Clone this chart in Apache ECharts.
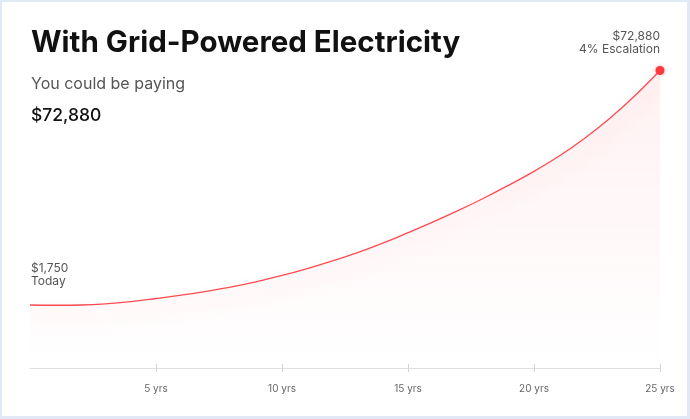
<!DOCTYPE html>
<html>
<head>
<meta charset="utf-8">
<script src="https://cdn.jsdelivr.net/npm/echarts@6/dist/echarts.min.js"></script>
<style>
  html, body { margin: 0; padding: 0; background: #ffffff; }
  #card { position: absolute; left: 0; top: 0; width: 690px; height: 419px; box-sizing: border-box;
          border: 2px solid #e1e9f7; border-right-width: 3px; border-bottom-width: 3px; background: #fff; }
  #chart { position: absolute; left: 0; top: 0; width: 690px; height: 419px; }
</style>
</head>
<body>
<div id="card"></div>
<div id="chart"></div>
<script>
// Years from today (0) to 25
const years = ['0','1','2','3','4','5','6','7','8','9','10','11','12','13','14','15','16','17','18','19','20','21','22','23','24','25'];
// Electricity cost curve (USD)
const costValues = [1750, 1670, 1750, 2110, 2790, 3720, 4720, 5900, 7250, 8850, 10700, 12800, 15130, 17670, 20520, 23680, 26960, 30440, 34140, 38100, 42300, 46950, 52250, 58300, 65200, 72880];
const tickYears = [5, 10, 15, 20, 25];
const titleText = 'With Grid-Powered Electricity';
const subtitleText = 'You could be paying';
const totalText = '$72,880';
const endLabel = ['$72,880', '4% Escalation'];
const startLabel = ['$1,750', 'Today'];

const chart = echarts.init(document.getElementById('chart'), null, { renderer: 'canvas' });
const FONT = 'Inter, "Noto Sans", sans-serif';
const isTick = (i) => tickYears.indexOf(Number(years[i])) >= 0;
const lastIdx = costValues.length - 1;

const seriesData = costValues.map((v, i) => i === lastIdx
  ? { value: v, symbol: 'circle', symbolSize: 9,
      itemStyle: { color: '#ff3a3f', borderWidth: 0, shadowColor: 'rgba(255,60,60,0.35)', shadowBlur: 4 } }
  : v);

chart.setOption({
  backgroundColor: 'transparent',
  animation: false,
  grid: { left: 30, right: 30, top: 70.5, bottom: 51, containLabel: false },
  xAxis: [{
    type: 'category',
    data: years,
    boundaryGap: false,
    axisLine: { show: true, onZero: false, lineStyle: { color: '#dedede', width: 1 } },
    axisTick: { show: true, interval: (i) => isTick(i), length: 4, lineStyle: { color: '#d2d2d2' } },
    axisLabel: { show: true, interval: (i) => isTick(i), formatter: (v) => v + ' yrs',
                 color: '#666', fontSize: 10, fontFamily: FONT, margin: 16 },
    splitLine: { show: false }
  }, {
    type: 'category',
    data: years,
    boundaryGap: false,
    position: 'bottom',
    axisLine: { show: false, onZero: false },
    axisTick: { show: true, inside: true, interval: (i) => isTick(i), length: 4, lineStyle: { color: '#d2d2d2' } },
    axisLabel: { show: false },
    splitLine: { show: false }
  }],
  yAxis: {
    type: 'value',
    min: -17360,
    max: 72880,
    show: false,
    splitLine: { show: false }
  },
  series: [{
    type: 'line',
    data: seriesData,
    smooth: 0.4,
    symbol: 'none',
    lineStyle: { color: '#ff4a4f', width: 1.3,
                 shadowColor: 'rgba(255,70,80,0.25)', shadowBlur: 18, shadowOffsetY: 10 },
    areaStyle: {
      origin: 'start',
      color: new echarts.graphic.LinearGradient(0, 0, 0, 1, [
        { offset: 0, color: 'rgba(255,90,100,0.12)' },
        { offset: 0.7, color: 'rgba(255,90,110,0.04)' },
        { offset: 1, color: 'rgba(255,90,110,0.0)' }
      ])
    },
    z: 3
  }],
  graphic: [
    { type: 'text', left: 31, top: 28, style: { text: titleText, fontFamily: FONT, fontWeight: 700, fontSize: 29.5, fill: '#111' } },
    { type: 'text', left: 31, top: 76, style: { text: subtitleText, fontFamily: FONT, fontWeight: 400, fontSize: 16, fill: '#555' } },
    { type: 'text', left: 31, top: 107, style: { text: totalText, fontFamily: FONT, fontWeight: 500, fontSize: 17.5, fill: '#111' } },
    { type: 'text', right: 30, top: 30, style: { text: endLabel[0], fontFamily: FONT, fontSize: 12, fill: '#555' } },
    { type: 'text', right: 30, top: 43, style: { text: endLabel[1], fontFamily: FONT, fontSize: 12, fill: '#555' } },
    { type: 'text', left: 31, top: 262, style: { text: startLabel.join('\n'), fontFamily: FONT, fontSize: 12, lineHeight: 13, fill: '#555' } }
  ]
});
</script>
</body>
</html>
